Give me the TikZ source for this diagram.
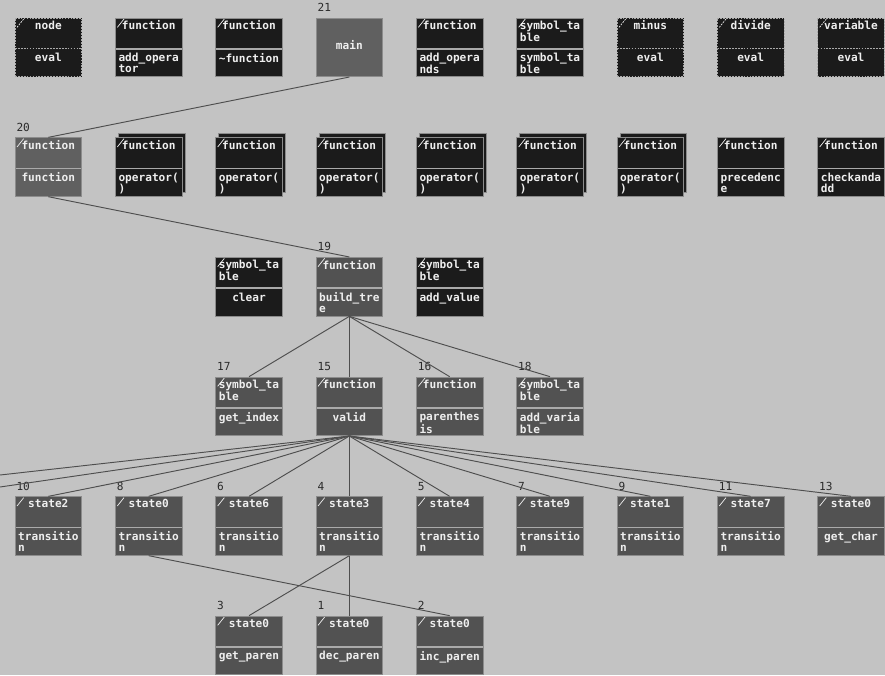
\documentclass[tikz,border=0pt]{standalone}
\usepackage{fontspec}
\setmonofont{DejaVu Sans Mono}
\usepackage{tikz}
\usetikzlibrary{shadows, calc}
\definecolor{canvas}{HTML}{C3C3C3}
\definecolor{boxink}{HTML}{1B1B1B}
\definecolor{boxgrey}{HTML}{525252}
\definecolor{boxlight}{HTML}{606060}
\definecolor{rim}{HTML}{8C8C8C}
\definecolor{rule}{HTML}{AAAAAA}
\definecolor{wire}{HTML}{4E4E4E}
\definecolor{boxtext}{HTML}{EEEEEE}
\definecolor{numink}{HTML}{2A2A2A}

% one class box: [options]{name}{position}{class}{method}
\newcommand{\classbox}[5][]{%
  \node[objbox, #1] (#2) at (#3) {};
  \node[txt] (#2-top) at ([yshift=-0.09cm]#2.north) {#4};
  \node[txt] (#2-bot) at ([yshift=-0.17cm]#2.center) {#5};
}

\begin{document}
\begin{tikzpicture}[
  plainbox/.style={draw=rim, line width=0.6pt, minimum width=2cm, minimum height=1.76cm, inner sep=0pt, fill=boxink},
  objbox/.style={plainbox, path picture={
      \draw[divider] ([yshift=-0.045cm]path picture bounding box.west) -- ([yshift=-0.045cm]path picture bounding box.east);
      \draw[tick] ([shift={(0.06,-0.28)}]path picture bounding box.north west) -- ++(0.2,0.25);}},
  dashbox/.style={draw=rule, dash pattern=on 1.5pt off 1pt, path picture={
      \draw[divider, line width=0.8pt, dash pattern=on 1.5pt off 1pt] ([yshift=-0.045cm]path picture bounding box.west) -- ([yshift=-0.045cm]path picture bounding box.east);
      \draw[tick] ([shift={(0.06,-0.28)}]path picture bounding box.north west) -- ++(0.2,0.25);}},
  stack/.style={copy shadow={shadow xshift=0.09cm, shadow yshift=0.13cm}},
  state/.style={fill=boxgrey},
  divider/.style={draw=rule, line width=1.2pt},
  tick/.style={draw=boxtext, line width=0.6pt},
  txt/.style={font=\ttfamily\bfseries\fontsize{9.5}{9.3}\selectfont, text=boxtext, align=left, anchor=north, inner sep=0pt},
  num/.style={font=\ttfamily\fontsize{9.5}{9.5}\selectfont, text=numink, anchor=south west, inner sep=0pt, xshift=0.05cm, yshift=0.17cm},
  wire/.style={draw=wire, line width=0.8pt}
]
\useasboundingbox (0,0) rectangle (26.55,-20.25);
\fill[canvas] (0,0) rectangle (26.55,-20.25);

% row 1
\classbox[dashbox]{nodeeval}{1.45,-1.42}{node}{eval}
\classbox{addop}{4.46,-1.42}{function}{add\_opera\\tor}
\classbox{dtor}{7.47,-1.42}{function}{\textasciitilde function}
\node[plainbox, fill=boxlight, label={[num]north west:21}] (main) at (10.48,-1.42) {};
\node[txt] (main-top) at ([yshift=0.2cm]main.center) {main};
\classbox{addopnd}{13.49,-1.42}{function}{add\_opera\\nds}
\classbox{symtab}{16.50,-1.42}{symbol\_ta\\ble}{symbol\_ta\\ble}
\classbox[dashbox]{minuseval}{19.51,-1.42}{minus}{eval}
\classbox[dashbox]{divideeval}{22.52,-1.42}{divide}{eval}
\classbox[dashbox]{vareval}{25.53,-1.42}{variable}{eval}

% row 2
\classbox[fill=boxlight, label={[num]north west:20}]{fn}{1.45,-5.01}{function}{function}
\classbox[stack]{opa}{4.46,-5.01}{function}{operator(\\)}
\classbox[stack]{opb}{7.47,-5.01}{function}{operator(\\)}
\classbox[stack]{opc}{10.48,-5.01}{function}{operator(\\)}
\classbox[stack]{opd}{13.49,-5.01}{function}{operator(\\)}
\classbox[stack]{ope}{16.50,-5.01}{function}{operator(\\)}
\classbox[stack]{opf}{19.51,-5.01}{function}{operator(\\)}
\classbox{prec}{22.52,-5.01}{function}{precedenc\\e}
\classbox{check}{25.53,-5.01}{function}{checkanda\\dd}

% row 3
\classbox{clear}{7.47,-8.60}{symbol\_ta\\ble}{clear}
\classbox[state, label={[num]north west:19}]{build}{10.48,-8.60}{function}{build\_tre\\e}
\classbox{addval}{13.49,-8.60}{symbol\_ta\\ble}{add\_value}

% row 4
\classbox[state, label={[num]north west:17}]{getidx}{7.47,-12.19}{symbol\_ta\\ble}{get\_index}
\classbox[state, label={[num]north west:15}]{valid}{10.48,-12.19}{function}{valid}
\classbox[state, label={[num]north west:16}]{paren}{13.49,-12.19}{function}{parenthes\\is}
\classbox[state, label={[num]north west:18}]{addvar}{16.50,-12.19}{symbol\_ta\\ble}{add\_varia\\ble}

% row 5
\classbox[state, label={[num]north west:10}]{s10}{1.45,-15.78}{state2}{transitio\\n}
\classbox[state, label={[num]north west:8}]{s8}{4.46,-15.78}{state0}{transitio\\n}
\classbox[state, label={[num]north west:6}]{s6}{7.47,-15.78}{state6}{transitio\\n}
\classbox[state, label={[num]north west:4}]{s4}{10.48,-15.78}{state3}{transitio\\n}
\classbox[state, label={[num]north west:5}]{s5}{13.49,-15.78}{state4}{transitio\\n}
\classbox[state, label={[num]north west:7}]{s7}{16.50,-15.78}{state9}{transitio\\n}
\classbox[state, label={[num]north west:9}]{s9}{19.51,-15.78}{state1}{transitio\\n}
\classbox[state, label={[num]north west:11}]{s11}{22.52,-15.78}{state7}{transitio\\n}
\classbox[state, label={[num]north west:13}]{s13}{25.53,-15.78}{state0}{get\_char}

% row 6
\classbox[state, label={[num]north west:3}]{s3}{7.47,-19.36}{state0}{get\_paren}
\classbox[state, label={[num]north west:1}]{s1}{10.48,-19.36}{state0}{dec\_paren}
\classbox[state, label={[num]north west:2}]{s2}{13.49,-19.36}{state0}{inc\_paren}

% calls leaving the picture on the left
\coordinate (offa) at (0,-14.25);
\coordinate (offb) at (0,-14.61);

\draw[wire] (main.south) -- (fn.north);
\draw[wire] (fn.south) -- (build.north);
\draw[wire] (build.south) -- (getidx.north);
\draw[wire] (build.south) -- (valid.north);
\draw[wire] (build.south) -- (paren.north);
\draw[wire] (build.south) -- (addvar.north);
\draw[wire] (valid.south) -- (offa);
\draw[wire] (valid.south) -- (offb);
\draw[wire] (valid.south) -- (s10.north);
\draw[wire] (valid.south) -- (s8.north);
\draw[wire] (valid.south) -- (s6.north);
\draw[wire] (valid.south) -- (s4.north);
\draw[wire] (valid.south) -- (s5.north);
\draw[wire] (valid.south) -- (s7.north);
\draw[wire] (valid.south) -- (s9.north);
\draw[wire] (valid.south) -- (s11.north);
\draw[wire] (valid.south) -- (s13.north);
\draw[wire] (s4.south) -- (s3.north);
\draw[wire] (s4.south) -- (s1.north);
\draw[wire] (s8.south) -- (s2.north);

\end{tikzpicture}
\end{document}
